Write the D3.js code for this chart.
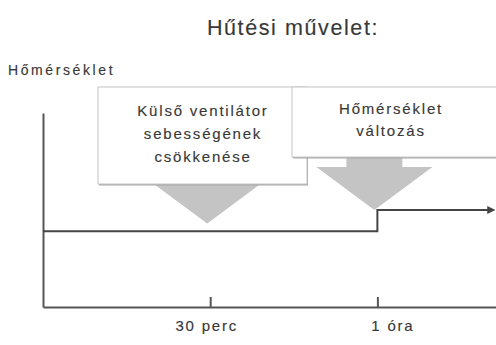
<!DOCTYPE html>
<html>
<head>
<meta charset="utf-8">
<script src="https://cdn.jsdelivr.net/npm/d3@7"></script>
<style>
  body { margin: 0; background: #fff; }
  text { font-family: "Liberation Sans", Arial, sans-serif; fill: #383838; stroke: #383838; stroke-width: 0.15px; }
</style>
</head>
<body>
<script>
// idő (perc) és hőmérséklet (relatív egység) - lépcsős görbe
const stepTimes = [0, 60, 80];
const stepTemps = [3.9, 5, 5];

const timeTicks = [30, 60];
const tickLabels = ['30 perc', '1 óra'];

const eventTimes = [30, 60];
const eventTipTemps = [4.3, 5];
const eventTexts = [
  ['Külső ventilátor', 'sebességének', 'csökkenése'],
  ['Hőmérséklet', 'változás']
];

const title = 'Hűtési művelet:';
const yLabel = 'Hőmérséklet';

const width = 496, height = 345;

const svg = d3.select('body')
  .append('svg')
  .attr('width', width)
  .attr('height', height);

const x = d3.scaleLinear().domain([0, 82]).range([43, 500]);
const y = d3.scaleLinear().domain([0, 10]).range([307, 113]);

// cím + tengelyfelirat
svg.append('text')
  .attr('x', 293)
  .attr('y', 35)
  .attr('text-anchor', 'middle')
  .style('font-size', '21.5px')
  .style('letter-spacing', '1.6px')
  .text(title);

svg.append('text')
  .attr('x', 8)
  .attr('y', 75)
  .style('font-size', '14px')
  .style('letter-spacing', '2.6px')
  .text(yLabel);

// doboz elrendezés (pixel)
const boxes = [
  { x: 98, y: 87, w: 209, h: 97, tx: 203, ty: 116, lh: 23 },
  { x: 292, y: 87, w: 215, h: 70, tx: 391, ty: 114, lh: 22 }
];
const stemW = 56, headW = 116, headH = 43;

function arrowPath(cx, tipY, topY) {
  return 'M' + (cx - stemW / 2) + ',' + topY +
    'L' + (cx + stemW / 2) + ',' + topY +
    'L' + (cx + stemW / 2) + ',' + (tipY - headH) +
    'L' + (cx + headW / 2) + ',' + (tipY - headH) +
    'L' + cx + ',' + tipY +
    'L' + (cx - headW / 2) + ',' + (tipY - headH) +
    'L' + (cx - stemW / 2) + ',' + (tipY - headH) + 'Z';
}

eventTimes.forEach(function(t, i) {
  var b = boxes[i];
  svg.append('path')
    .attr('d', arrowPath(x(t) - 3, y(eventTipTemps[i]), b.y + b.h - 10))
    .attr('fill', '#c4c4c4');

  svg.append('rect')
    .attr('x', b.x + 1)
    .attr('y', b.y + 1.5)
    .attr('width', b.w)
    .attr('height', b.h)
    .attr('fill', '#a8a8a8');
  svg.append('rect')
    .attr('x', b.x)
    .attr('y', b.y)
    .attr('width', b.w)
    .attr('height', b.h)
    .attr('fill', '#fff')
    .attr('stroke', '#c4c4c4')
    .attr('stroke-width', 1);

  svg.append('g')
    .selectAll('text')
    .data(eventTexts[i])
    .enter()
    .append('text')
    .attr('x', b.tx)
    .attr('y', function(d, j) { return b.ty + j * b.lh; })
    .attr('text-anchor', 'middle')
    .style('font-size', '15px')
    .style('letter-spacing', '1.8px')
    .text(function(d) { return d; });
});

// tengelyek
const xAxis = svg.append('g')
  .attr('transform', 'translate(0,' + y(0) + ')')
  .call(d3.axisBottom(x)
    .tickValues(timeTicks)
    .tickSize(-10)
    .tickSizeOuter(0)
    .tickPadding(13)
    .tickFormat(function(d, i) { return tickLabels[i]; }));
xAxis.select('.domain').attr('stroke', '#555').attr('stroke-width', 2);
xAxis.selectAll('.tick line').attr('stroke', '#555').attr('stroke-width', 2);
xAxis.selectAll('.tick text')
  .attr('fill', '#383838')
  .style('font-family', '"Liberation Sans", Arial, sans-serif')
  .style('font-size', '15px')
  .style('letter-spacing', '1.8px');
xAxis.selectAll('.tick text').filter(function(d, i) { return i === 0; }).attr('dx', -4);
xAxis.selectAll('.tick text').filter(function(d, i) { return i === 1; }).attr('dx', 15);

const yAxis = svg.append('g')
  .attr('transform', 'translate(' + x(0) + ',0)')
  .call(d3.axisLeft(y).tickValues([]).tickSizeOuter(0));
yAxis.select('.domain').attr('stroke', '#555').attr('stroke-width', 2);

// lépcsős hőmérséklet görbe
svg.append('defs').append('marker')
  .attr('id', 'arr')
  .attr('viewBox', '0 0 10 10')
  .attr('refX', 2)
  .attr('refY', 5)
  .attr('markerWidth', 4)
  .attr('markerHeight', 4)
  .attr('orient', 'auto')
  .append('path')
  .attr('d', 'M0,0L10,5L0,10Z')
  .attr('fill', '#444');

const line = d3.line()
  .x(function(d) { return x(d[0]); })
  .y(function(d) { return y(d[1]); })
  .curve(d3.curveStepAfter);

svg.append('path')
  .datum(stepTimes.map(function(t, i) { return [t, stepTemps[i]]; }))
  .attr('d', line)
  .attr('fill', 'none')
  .attr('stroke', '#444')
  .attr('stroke-width', 2)
  .attr('marker-end', 'url(#arr)');
</script>
</body>
</html>
